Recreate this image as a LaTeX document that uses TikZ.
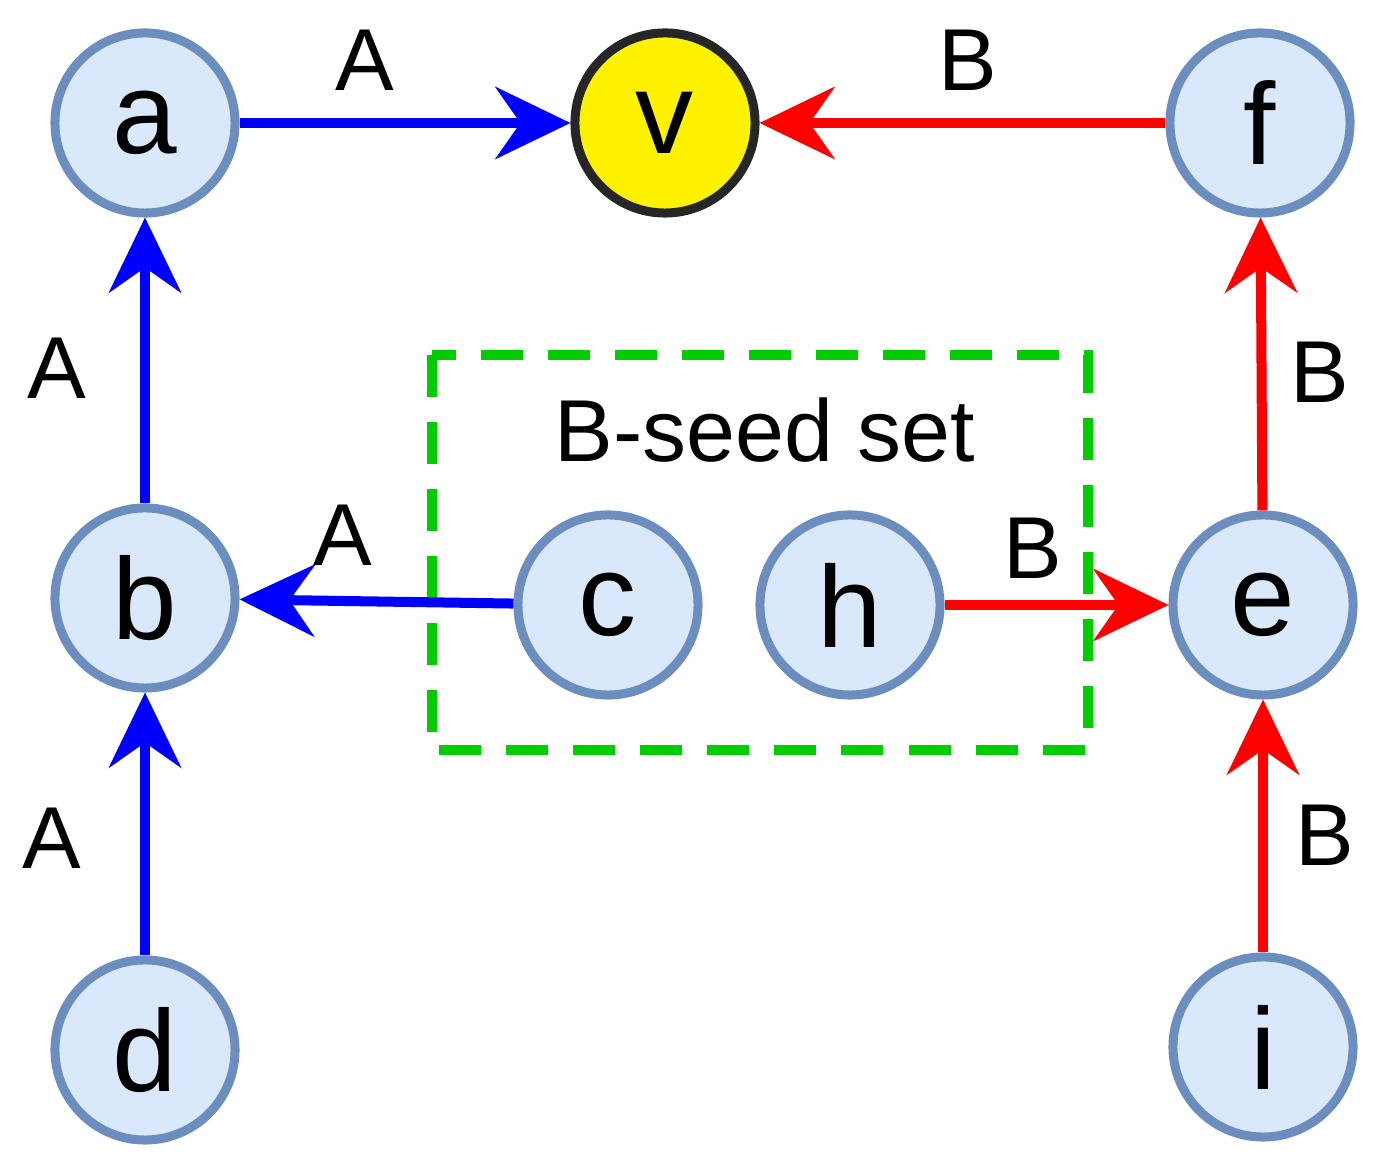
\documentclass[tikz,border=0pt]{standalone}
\usepackage{fontspec}
\setmainfont{Liberation Sans}
\usetikzlibrary{arrows.meta}
\definecolor{nodefill}{RGB}{218,232,252}
\definecolor{nodeedge}{RGB}{108,142,191}
\definecolor{seedgreen}{RGB}{0,204,0}
\begin{document}
\begin{tikzpicture}[x=0.01cm, y=-0.01cm,
  vtx/.style={circle, draw=nodeedge, fill=nodefill, line width=0.09cm, minimum size=1.8cm, inner sep=0pt, font=\fontsize{33}{33}\selectfont},
  root/.style={vtx, draw=black!85, fill=yellow},
  edgeA/.style={draw=blue, line width=0.1cm, -{Stealth[length=0.75cm, width=0.72cm, inset=0.25cm]}},
  edgeB/.style={edgeA, draw=red},
  lbl/.style={font=\fontsize{25}{25}\selectfont}]
  \useasboundingbox (0,0) rectangle (1387,1168);

  \draw[seedgreen, line width=0.1cm, dash pattern=on 0.42cm off 0.25cm] (432,355) rectangle (1088,750);
  \node[lbl] (seedlbl) at (765,430) {B-seed set};

  \node[vtx] (a) at (145,123) {a};
  \node[root] (v) at (665,123) {v};
  \node[vtx] (f) at (1260,123) {f};
  \node[vtx] (b) at (145,598) {b};
  \node[vtx] (c) at (608,605) {c};
  \node[vtx] (h) at (850,605) {h};
  \node[vtx] (e) at (1263,605) {e};
  \node[vtx] (d) at (145,1050) {d};
  \node[vtx] (i) at (1263,1047) {i};

  \draw[edgeA] (a) -- (v);
  \draw[edgeB] (f) -- (v);
  \draw[edgeA] (b) -- (a);
  \draw[edgeA] (c) -- (b);
  \draw[edgeA] (d) -- (b);
  \draw[edgeB] (h) -- (e);
  \draw[edgeB] (e) -- (f);
  \draw[edgeB] (i) -- (e);

  \node[lbl] (l1) at (365,60) {A};
  \node[lbl] (l2) at (968,60) {B};
  \node[lbl] (l3) at (57,368) {A};
  \node[lbl] (l4) at (1320,372) {B};
  \node[lbl] (l5) at (343,535) {A};
  \node[lbl] (l6) at (1033,548) {B};
  \node[lbl] (l7) at (52,838) {A};
  \node[lbl] (l8) at (1325,835) {B};
\end{tikzpicture}
\end{document}
